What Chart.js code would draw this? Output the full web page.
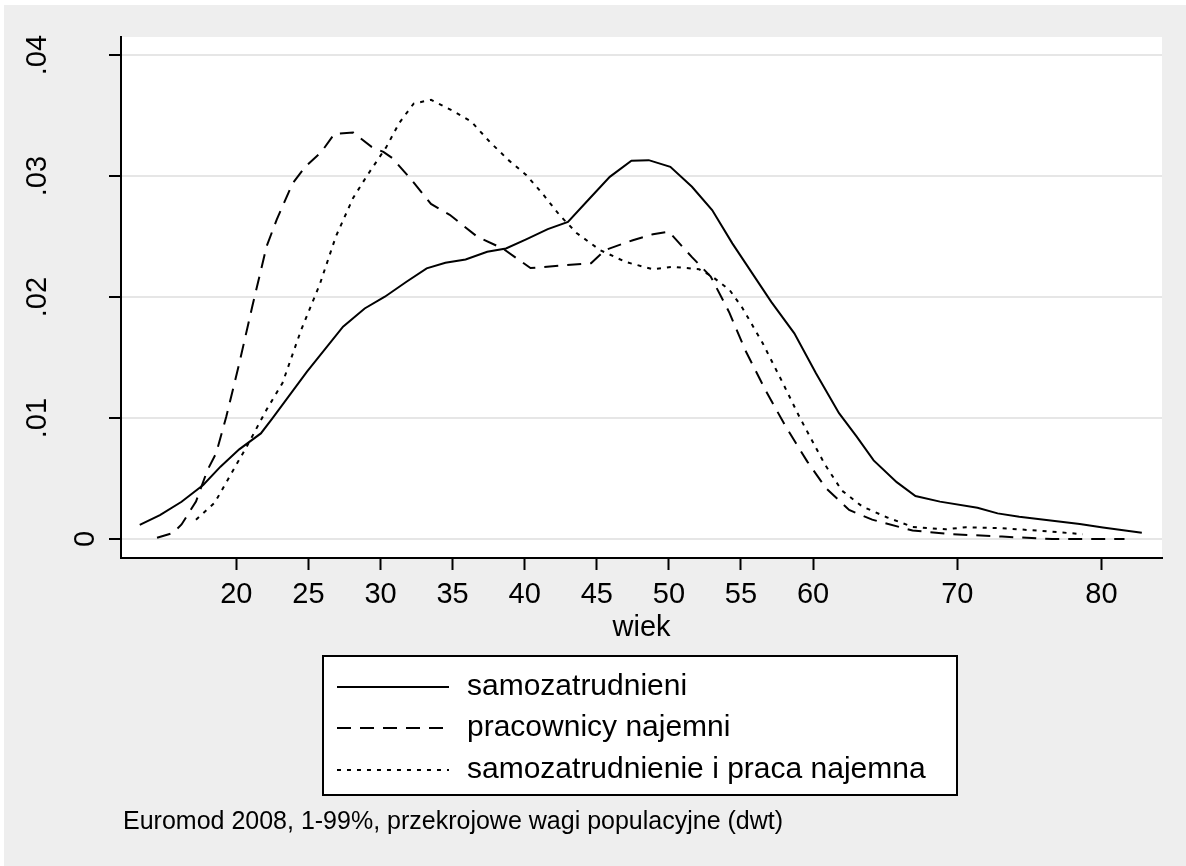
<!DOCTYPE html>
<html>
<head>
<meta charset="utf-8">
<script src="https://cdn.jsdelivr.net/npm/chart.js@4"></script>
<style>
  html, body { margin: 0; padding: 0; background: #ffffff; }
  canvas { display: block; }
</style>
</head>
<body>
<canvas id="chart" width="1186" height="866"></canvas>
<script>
// kernel density estimates
const ageSelf = [13.3, 14.7, 16.2, 17.7, 18.9, 20.2, 21.7, 22.5, 24.9, 27.4, 28.9, 30.3, 31.8, 33.2, 34.5, 35.9, 37.4, 38.7, 40.1, 41.6, 43.0, 44.5, 45.9, 47.4, 48.6, 50.1, 51.6, 53.0, 54.4, 57.1, 58.7, 60.2, 61.8, 63.0, 64.2, 65.8, 67.1, 68.8, 71.4, 72.8, 74.3, 78.5, 80.1, 82.8];
const densSelf = [0.00116, 0.00198, 0.00308, 0.00446, 0.00598, 0.00741, 0.00873, 0.00997, 0.01383, 0.01755, 0.01906, 0.02003, 0.02127, 0.02237, 0.02284, 0.02311, 0.02375, 0.02402, 0.02477, 0.02562, 0.02622, 0.02815, 0.02994, 0.03127, 0.03132, 0.03077, 0.02912, 0.02719, 0.02444, 0.0196, 0.0170, 0.0137, 0.0104, 0.0085, 0.0065, 0.0047, 0.00355, 0.00309, 0.00259, 0.00212, 0.00184, 0.00124, 0.00096, 0.00052];

const ageEmpl = [14.5, 15.6, 16.2, 17.2, 18.0, 18.6, 19.3, 20.2, 21.1, 22.1, 22.8, 23.9, 24.8, 25.9, 26.8, 28.1, 29.4, 30.2, 30.8, 32.0, 33.5, 34.8, 36.7, 38.5, 40.4, 42.5, 44.6, 45.6, 47.5, 48.9, 50.0, 51.6, 52.9, 54.2, 55.3, 56.7, 58.1, 59.6, 60.9, 62.5, 64.1, 66.9, 69.7, 73.1, 76.6, 81.6];
const densEmpl = [0.0001, 0.0005, 0.0012, 0.0031, 0.0057, 0.0071, 0.0101, 0.0145, 0.0192, 0.0242, 0.0264, 0.0294, 0.0308, 0.0320, 0.0335, 0.0336, 0.0324, 0.0320, 0.0315, 0.0299, 0.0277, 0.0268, 0.0250, 0.0240, 0.0224, 0.0226, 0.0228, 0.0239, 0.0247, 0.0252, 0.0254, 0.0233, 0.0217, 0.0187, 0.0156, 0.0123, 0.0093, 0.0064, 0.0042, 0.0024, 0.0016, 0.0007, 0.0004, 0.0002, 0.0000, 0.0000];

const ageBoth = [17.2, 18.5, 19.5, 20.7, 22.1, 23.2, 24.5, 25.8, 26.9, 28.1, 29.1, 30.4, 31.3, 32.3, 33.5, 35.0, 36.3, 37.6, 38.9, 40.1, 41.2, 42.4, 43.6, 45.2, 47.0, 48.9, 50.3, 52.1, 53.0, 54.2, 55.1, 56.5, 57.9, 59.05, 60.8, 62.0, 63.4, 65.1, 66.9, 69.2, 70.6, 73.1, 76.6, 78.7];
const densBoth = [0.0016, 0.0030, 0.0051, 0.0076, 0.0107, 0.0129, 0.0173, 0.0211, 0.0250, 0.0282, 0.0301, 0.0324, 0.0344, 0.0360, 0.0363, 0.0354, 0.0345, 0.0328, 0.0313, 0.0301, 0.0286, 0.0268, 0.0253, 0.0239, 0.0229, 0.0223, 0.0225, 0.0223, 0.0217, 0.0206, 0.0191, 0.0162, 0.0129, 0.0101, 0.0062, 0.0040, 0.0027, 0.0018, 0.0010, 0.0008, 0.00097, 0.0009, 0.0006, 0.0004];

const seriesNames = ["samozatrudnieni", "pracownicy najemni", "samozatrudnienie i praca najemna"];
const xTicks = [20, 25, 30, 35, 40, 45, 50, 55, 60, 70, 80];
const yTicks = [0, 0.01, 0.02, 0.03, 0.04];
const yTickLabels = ["0", ".01", ".02", ".03", ".04"];
const xTitle = "wiek";
const noteText = "Euromod 2008, 1-99%, przekrojowe wagi populacyjne (dwt)";

const FONT = "'Liberation Sans', Arial, sans-serif";

function toPoints(xs, ys) {
    return xs.map((x, i) => ({ x: x, y: ys[i] }));
}

// grey page + white plot region
const backgroundPlugin = {
    id: "background",
    beforeDraw(chart) {
        const { ctx, chartArea } = chart;
        ctx.save();
        ctx.fillStyle = "#ffffff";
        ctx.fillRect(0, 0, chart.width, chart.height);
        ctx.fillStyle = "#eeeeee";
        ctx.fillRect(4, 5, chart.width - 4, chart.height - 5);
        ctx.fillStyle = "#ffffff";
        ctx.fillRect(chartArea.left, chartArea.top, chartArea.right - chartArea.left, chartArea.bottom - chartArea.top);
        ctx.restore();
    },
};

// vertical y tick labels, legend box and note
const extrasPlugin = {
    id: "extras",
    afterDraw(chart) {
        const { ctx } = chart;
        const yScale = chart.scales.y;

        ctx.save();
        ctx.fillStyle = "#000";
        ctx.font = "29px " + FONT;
        ctx.textAlign = "center";
        ctx.textBaseline = "middle";
        yTicks.forEach((v, i) => {
            const label = yTickLabels[i];
            const x = label.length === 1 ? 86 : 38;
            ctx.save();
            ctx.translate(x, yScale.getPixelForValue(v));
            ctx.rotate(-Math.PI / 2);
            ctx.fillText(label, 0, 0);
            ctx.restore();
        });

        // legend
        const box = { x: 323, y: 656, w: 634, h: 139 };
        ctx.fillStyle = "#ffffff";
        ctx.fillRect(box.x, box.y, box.w, box.h);
        ctx.strokeStyle = "#000";
        ctx.lineWidth = 2;
        ctx.strokeRect(box.x, box.y, box.w, box.h);

        const rows = [687, 728, 770];
        chart.data.datasets.forEach((ds, i) => {
            ctx.beginPath();
            ctx.setLineDash(ds.borderDash || []);
            ctx.lineWidth = 2;
            ctx.moveTo(337, rows[i]);
            ctx.lineTo(449, rows[i]);
            ctx.stroke();
            ctx.setLineDash([]);
            ctx.fillStyle = "#000";
            ctx.font = "30px " + FONT;
            ctx.textAlign = "left";
            ctx.textBaseline = "middle";
            ctx.fillText(ds.label, 467, rows[i]);
        });

        ctx.font = "25px " + FONT;
        ctx.textAlign = "left";
        ctx.textBaseline = "middle";
        ctx.fillText(noteText, 123, 822);
        ctx.restore();
    },
};

const config = {
    type: "line",
    data: {
        datasets: [
            {
                label: seriesNames[0],
                data: toPoints(ageSelf, densSelf),
                borderColor: "#000",
                borderWidth: 2,
                borderDash: [],
            },
            {
                label: seriesNames[1],
                data: toPoints(ageEmpl, densEmpl),
                borderColor: "#000",
                borderWidth: 2,
                borderDash: [14, 9],
            },
            {
                label: seriesNames[2],
                data: toPoints(ageBoth, densBoth),
                borderColor: "#000",
                borderWidth: 2,
                borderDash: [4, 6],
            },
        ],
    },
    options: {
        responsive: false,
        animation: false,
        devicePixelRatio: 1,
        elements: {
            point: { radius: 0 },
            line: { tension: 0, fill: false },
        },
        layout: {
            padding: { top: 37, right: 24, bottom: 224, left: 0 },
        },
        scales: {
            x: {
                type: "linear",
                min: 12,
                max: 84.2,
                afterBuildTicks: (scale) => {
                    scale.ticks = xTicks.map((v) => ({ value: v }));
                },
                afterFit: (scale) => {
                    scale.height = 84;
                },
                ticks: {
                    color: "#000",
                    font: { family: FONT, size: 29, lineHeight: 1.2 },
                    padding: 8,
                    maxRotation: 0,
                    autoSkip: false,
                    callback: (v) => String(v),
                },
                grid: {
                    drawOnChartArea: false,
                    drawTicks: true,
                    tickLength: 12,
                    tickColor: "#000",
                    tickWidth: 2,
                },
                border: { display: true, color: "#000", width: 2 },
                title: {
                    display: true,
                    text: xTitle,
                    color: "#000",
                    font: { family: FONT, size: 29, lineHeight: 1 },
                    padding: { top: 0, bottom: 0 },
                },
            },
            y: {
                type: "linear",
                min: -0.00157,
                max: 0.0415,
                afterBuildTicks: (scale) => {
                    scale.ticks = yTicks.map((v) => ({ value: v }));
                },
                afterFit: (scale) => {
                    scale.width = 121;
                },
                ticks: { display: false },
                grid: {
                    color: "#e6e6e6",
                    lineWidth: 2,
                    drawTicks: true,
                    tickLength: 12,
                    tickColor: "#000",
                    tickWidth: 2,
                },
                border: { display: true, color: "#000", width: 2 },
            },
        },
        plugins: {
            legend: { display: false },
            tooltip: { enabled: false },
        },
    },
    plugins: [backgroundPlugin, extrasPlugin],
};

new Chart(document.getElementById("chart"), config);
</script>
</body>
</html>
